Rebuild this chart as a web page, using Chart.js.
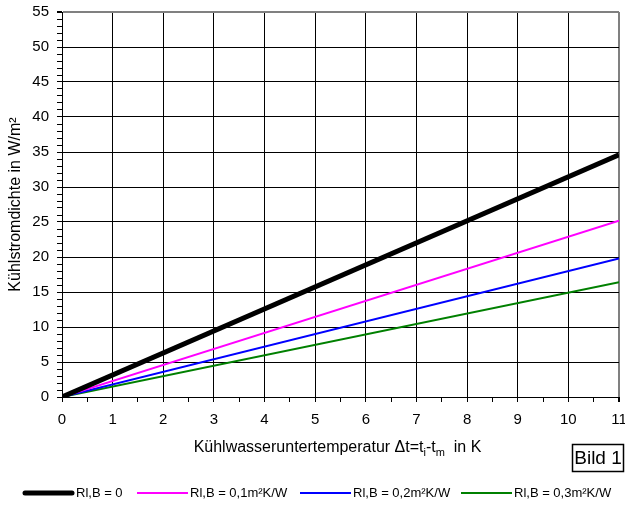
<!DOCTYPE html>
<html>
<head>
<meta charset="utf-8">
<script src="https://cdn.jsdelivr.net/npm/chart.js@4.4.1/dist/chart.umd.min.js"></script>
<style>
html,body{margin:0;padding:0;background:#fff;}
#wrap{width:625px;height:507px;position:relative;}
</style>
</head>
<body>
<div id="wrap"><canvas id="c" width="625" height="507"></canvas></div>
<script>
// Data
const xValues = [0, 11];
const seriesNames = ['Rl,B = 0', 'Rl,B = 0,1m²K/W', 'Rl,B = 0,2m²K/W', 'Rl,B = 0,3m²K/W'];
const seriesR0 = [0, 34.6];
const seriesR01 = [0, 25.2];
const seriesR02 = [0, 19.8];
const seriesR03 = [0, 16.4];
const xTickLabels = ['0','1','2','3','4','5','6','7','8','9','10','11'];
const yTickLabels = ['0','5','10','15','20','25','30','35','40','45','50','55'];

const colors = ['#000000', '#ff00ff', '#0000ff', '#008000'];
const widths = [5, 2, 2, 2];
const allSeries = [seriesR0, seriesR01, seriesR02, seriesR03];

const FONT = 'Liberation Sans, Arial, sans-serif';

const datasets = allSeries.map((s, i) => ({
  label: seriesNames[i],
  data: xValues.map((x, j) => ({x: x, y: s[j]})),
  borderColor: colors[i],
  backgroundColor: colors[i],
  borderWidth: widths[i],
  pointRadius: 0,
  tension: 0,
  fill: false
}));

const extraText = {
  id: 'extraText',
  afterDraw(chart) {
    const ctx = chart.ctx;
    ctx.save();
    // x axis title with subscripts
    const parts = [
      {t: 'Kühlwasseruntertemperatur \u0394t=t', sub: false},
      {t: 'i', sub: true},
      {t: '-t', sub: false},
      {t: 'm', sub: true},
      {t: '  in K', sub: false}
    ];
    const mainFont = '16px ' + FONT;
    const subFont = '11px ' + FONT;
    let total = 0;
    parts.forEach(p => { ctx.font = p.sub ? subFont : mainFont; p.w = ctx.measureText(p.t).width; total += p.w; });
    let x = 337.5 - total / 2;
    const y = 448;
    ctx.fillStyle = '#000';
    ctx.textBaseline = 'middle';
    ctx.textAlign = 'left';
    parts.forEach(p => {
      ctx.font = p.sub ? subFont : mainFont;
      ctx.fillText(p.t, x, p.sub ? y + 5 : y);
      x += p.w;
    });
    // Bild 1 box
    ctx.font = '19px ' + FONT;
    ctx.strokeStyle = '#000';
    ctx.lineWidth = 1.5;
    ctx.strokeRect(572.5, 444.5, 51, 27);
    ctx.textAlign = 'center';
    ctx.fillText('Bild 1', 598, 458.5);

    // Legend (from the chart's datasets)
    const starts = [23, 137, 300, 461];
    const ly = 493;
    ctx.textAlign = 'left';
    ctx.font = '13px ' + FONT;
    chart.data.datasets.forEach((d, i) => {
      const sx = starts[i];
      ctx.strokeStyle = d.borderColor;
      ctx.lineWidth = d.borderWidth;
      ctx.lineCap = i === 0 ? 'round' : 'butt';
      ctx.beginPath();
      ctx.moveTo(sx + (i === 0 ? 2 : 0), ly);
      ctx.lineTo(sx + 51 - (i === 0 ? 2 : 0), ly);
      ctx.stroke();
      ctx.fillStyle = '#000';
      ctx.fillText(d.label, sx + 53, ly);
    });
    ctx.restore();
  }
};

new Chart(document.getElementById('c'), {
  type: 'line',
  data: { datasets },
  plugins: [extraText],
  options: {
    responsive: false,
    animation: false,
    devicePixelRatio: 1,
    layout: { padding: { top: 12, left: 0, right: 6, bottom: 31 } },
    plugins: {
      legend: { display: false },
      tooltip: { enabled: false }
    },
    scales: {
      x: {
        type: 'linear',
        min: 0, max: 11,
        afterFit(s) { s.height = 79; s.paddingRight = 0; s.paddingLeft = 0; },
        border: { color: '#000', width: 1 },
        grid: {
          color: ctx => {
            const v = ctx.tick ? ctx.tick.value : 0;
            if (v === 11) return '#808080';
            return Number.isInteger(v) ? '#000' : 'rgba(0,0,0,0)';
          },
          lineWidth: ctx => (ctx.tick && ctx.tick.value === 11) ? 2 : 1,
          tickColor: '#000',
          tickLength: 5,
          drawOnChartArea: true
        },
        ticks: {
          stepSize: 0.5,
          autoSkip: false,
          maxRotation: 0,
          padding: 9,
          color: '#000',
          font: { family: FONT, size: 15 },
          callback: v => Number.isInteger(v) ? xTickLabels[v] : ''
        }
      },
      y: {
        type: 'linear',
        min: 0, max: 55,
        afterFit(s) { s.width = 62; s.paddingTop = 0; s.paddingBottom = 0; },
        border: { color: '#000', width: 1 },
        grid: {
          color: ctx => {
            const v = ctx.tick ? ctx.tick.value : 0;
            if (v === 55) return '#808080';
            return v % 5 === 0 ? '#000' : 'rgba(0,0,0,0)';
          },
          lineWidth: ctx => (ctx.tick && ctx.tick.value === 55) ? 2 : 1,
          tickColor: '#000',
          tickLength: 5
        },
        ticks: {
          stepSize: 1,
          autoSkip: false,
          padding: 8,
          color: '#000',
          font: { family: FONT, size: 15 },
          callback: v => v % 5 === 0 ? yTickLabels[v / 5] : ''
        },
        title: {
          display: true,
          text: 'Kühlstromdichte in W/m²',
          color: '#000',
          font: { family: FONT, size: 16 },
          padding: { top: 6, bottom: 0 }
        }
      }
    }
  }
});
</script>
</body>
</html>
